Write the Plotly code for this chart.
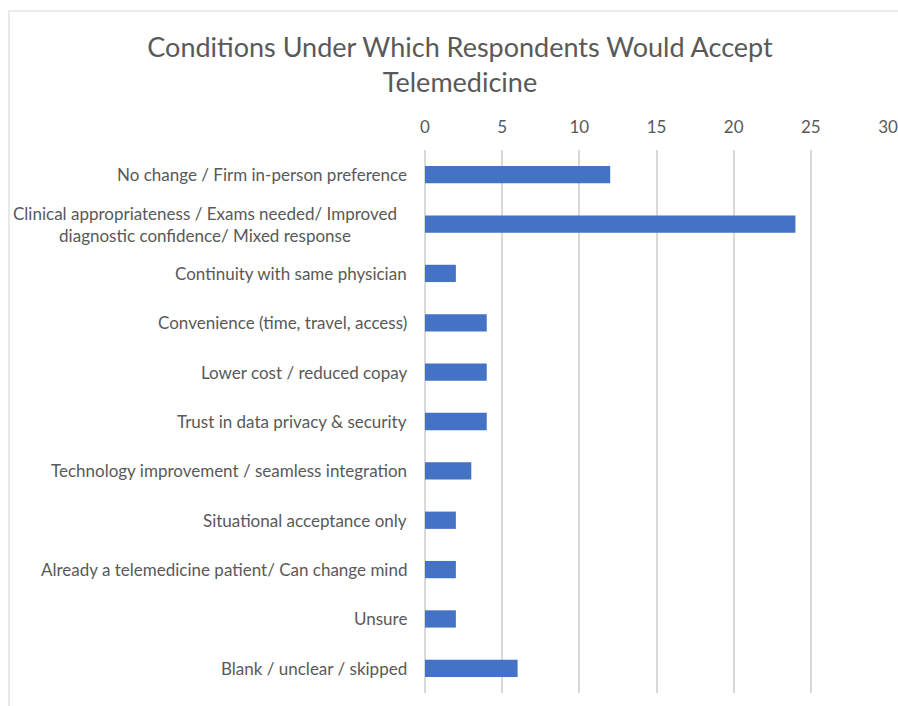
import plotly.graph_objects as go

categories = [
    "No change / Firm in-person preference",
    "Clinical appropriateness / Exams needed/ Improved<br>diagnostic confidence/ Mixed response",
    "Continuity with same physician",
    "Convenience (time, travel, access)",
    "Lower cost / reduced copay",
    "Trust in data privacy & security",
    "Technology improvement / seamless integration",
    "Situational acceptance only",
    "Already a telemedicine patient/ Can change mind",
    "Unsure",
    "Blank / unclear / skipped",
]
counts = [12, 24, 2, 4, 4, 4, 3, 2, 2, 2, 6]
x_ticks = [0, 5, 10, 15, 20, 25, 30]
title_text = "Conditions Under Which Respondents Would Accept<br>Telemedicine"

W, H = 898, 706
L, R, T, B = 425, 888, 150, 693

FONT = "Lato, Carlito, Calibri, sans-serif"
GRAY = "#595959"
GRID = "#d9d9d9"

fig = go.Figure(go.Bar(
    x=counts, y=categories, orientation="h",
    marker=dict(color="#4472C4", line=dict(width=0)),
    width=0.35,
))

annotations = [
    dict(x=0, xref="paper", y=c, yref="y", text=c, showarrow=False,
         xanchor="right", yanchor="middle", align="center",
         xshift=-26 if "<br>" in c else -16,
         font=dict(family=FONT, size=17, color=GRAY))
    for c in categories
]

def px_to_paper_x(px):
    return (px - L) / (R - L)

def px_to_paper_y(py):
    return (B - py) / (B - T)

fig.update_layout(
    width=W, height=H,
    margin=dict(l=L, r=W - R, t=T, b=H - B, autoexpand=False),
    paper_bgcolor="white", plot_bgcolor="white",
    showlegend=False,
    title=dict(text=title_text, x=460 / W,
               xanchor="center", y=1 - 57 / H, yanchor="middle",
               font=dict(family=FONT, size=27, color=GRAY)),
    xaxis=dict(side="top", range=[0, 30], tickvals=x_ticks, showgrid=True,
               gridcolor=GRID, gridwidth=1.5, zeroline=True, zerolinecolor=GRID,
               zerolinewidth=1.5, showline=False, ticks="",
               ticklabelstandoff=13,
               tickfont=dict(family=FONT, size=17, color=GRAY), fixedrange=True),
    yaxis=dict(autorange="reversed", showticklabels=False, showgrid=False,
               zeroline=False, showline=False, ticks=""),
    annotations=annotations,
    shapes=[dict(type="rect", xref="paper", yref="paper",
                 x0=px_to_paper_x(9), x1=px_to_paper_x(905),
                 y0=px_to_paper_y(715), y1=px_to_paper_y(11),
                 line=dict(color=GRID, width=1.2), fillcolor="rgba(0,0,0,0)",
                 layer="below")],
)

fig.write_html("out.html")
